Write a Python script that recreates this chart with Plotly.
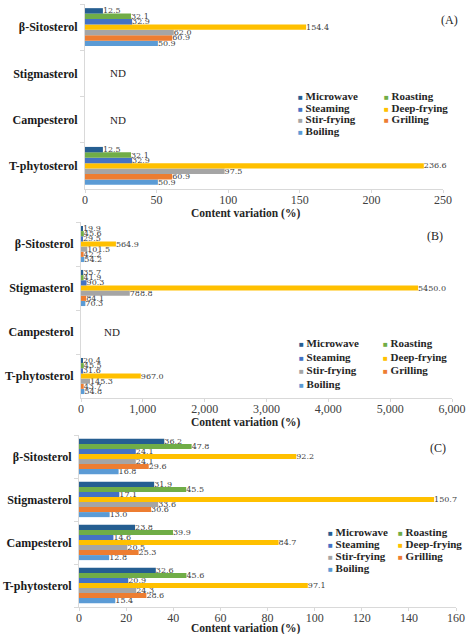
import plotly.graph_objects as go

# ---------------- data ----------------
categories = ["β-Sitosterol", "Stigmasterol", "Campesterol", "T-phytosterol"]
methods = ["Microwave", "Roasting", "Steaming", "Deep-frying", "Stir-frying", "Grilling", "Boiling"]
colors = ["#255E91", "#70AD47", "#4472C4", "#FFC000", "#A5A5A5", "#ED7D31", "#5B9BD5"]

# values per method, in category order above (None = ND)
panel_a = {
    "Microwave":   [12.5, None, None, 12.5],
    "Roasting":    [32.1, None, None, 32.1],
    "Steaming":    [32.9, None, None, 32.9],
    "Deep-frying": [154.4, None, None, 236.6],
    "Stir-frying": [62.0, None, None, 97.5],
    "Grilling":    [60.9, None, None, 60.9],
    "Boiling":     [50.9, None, None, 50.9],
}
panel_b = {
    "Microwave":   [19.9, 35.7, None, 20.4],
    "Roasting":    [45.6, 41.9, None, 45.5],
    "Steaming":    [29.5, 90.3, None, 31.6],
    "Deep-frying": [564.9, 5450.0, None, 967.0],
    "Stir-frying": [101.5, 788.8, None, 145.3],
    "Grilling":    [42.2, 84.1, None, 43.7],
    "Boiling":     [54.2, 70.3, None, 54.8],
}
panel_c = {
    "Microwave":   [36.2, 31.9, 23.8, 32.6],
    "Roasting":    [47.8, 45.5, 39.9, 45.6],
    "Steaming":    [24.1, 17.1, 14.6, 20.9],
    "Deep-frying": [92.2, 150.7, 84.7, 97.1],
    "Stir-frying": [24.1, 33.6, 20.5, 24.3],
    "Grilling":    [29.6, 30.6, 25.3, 28.6],
    "Boiling":     [16.8, 13.0, 12.8, 15.4],
}
nd_a = ["Stigmasterol", "Campesterol"]
nd_b = ["Campesterol"]
x_ranges = [[0, 250], [0, 6000], [0, 160]]
x_dticks = [50, 1000, 20]
panel_labels = ["(A)", "(B)", "(C)"]
axis_title = "Content variation (%)"

# ---------------- layout geometry ----------------
W, H = 471, 634
def px(x):
    return x / W
def py(y):
    return 1 - y / H

x_domains = [[px(85), px(443)], [px(81), px(452)], [px(79), px(456)]]
y_domains = [[py(189), py(4)], [py(398), py(222)], [py(607), py(435)]]
# legend: (col1 left, col2 left, first row y, row pitch) in px
legend_pos = [
    (296, 382, 96, 11.5),
    (297, 381, 343, 13.7),
    (326, 396, 532, 12.0),
]
title_y = [213, 422, 628]
label_pos = [(449, 20), (435, 236), (438, 448)]

serif = "Liberation Serif"
col1 = ["Microwave", "Steaming", "Stir-frying", "Boiling"]
col2 = ["Roasting", "Deep-frying", "Grilling"]

fig = go.Figure()
panels = [panel_a, panel_b, panel_c]
for p, data in enumerate(panels):
    xa = "x" if p == 0 else f"x{p+1}"
    ya = "y" if p == 0 else f"y{p+1}"
    # add bottom-most series first so Microwave sits on top
    for m, c in zip(reversed(methods), reversed(colors)):
        vals = data[m]
        fig.add_trace(go.Bar(
            y=categories, x=vals, orientation="h", name=m,
            marker=dict(color=c, line=dict(width=0)),
            text=[("" if v is None else f"{v:.1f}") for v in vals],
            textposition="outside", constraintext="none", cliponaxis=False,
            textfont=dict(family="DejaVu Serif", size=8, color="#404040"),
            xaxis=xa, yaxis=ya, showlegend=False,
            hoverinfo="x+name",
        ))

layout = dict(
    width=W, height=H,
    margin=dict(l=0, r=0, t=0, b=0),
    paper_bgcolor="white", plot_bgcolor="white",
    barmode="group", bargap=0.18, bargroupgap=0,
    font=dict(family=serif, color="#000000"),
    showlegend=False,
    annotations=[],
)
color_of = dict(zip(methods, colors))
for p in range(3):
    sx = "" if p == 0 else str(p + 1)
    layout[f"xaxis{sx}"] = dict(
        domain=x_domains[p], anchor=f"y{sx}", range=x_ranges[p], dtick=x_dticks[p],
        tickformat="," if p == 1 else None,
        showline=True, linecolor="#D9D9D9", linewidth=1,
        ticks="outside", ticklen=3, tickcolor="#D9D9D9",
        showgrid=False, zeroline=False,
        tickfont=dict(family=serif, size=12, color="#404040"),
        ticklabelstandoff=-3,
        automargin=False,
    )
    layout[f"yaxis{sx}"] = dict(
        domain=y_domains[p], anchor=f"x{sx}", type="category",
        categoryorder="array", categoryarray=list(reversed(categories)),
        showline=True, linecolor="#D9D9D9", linewidth=1,
        ticks="outside", ticklen=4, tickcolor="#D9D9D9", tickson="boundaries",
        showgrid=False, zeroline=False,
        tickfont=dict(family=serif, size=12, color="#1a1a1a", weight="bold"),
        ticklabelstandoff=4,
        automargin=False,
    )
    # compact two-column legend built from the series names / colours
    c1, c2, y0, pitch = legend_pos[p]
    for colx, names in ((c1, col1), (c2, col2)):
        for r, m in enumerate(names):
            layout["annotations"].append(dict(
                text=(f"<span style='font-size:8px;color:{color_of[m]}'>■</span>"
                      f" <b>{m}</b>"),
                x=px(colx), y=py(y0 + r * pitch), xref="paper", yref="paper",
                xanchor="left", yanchor="middle", showarrow=False,
                font=dict(family=serif, size=11, color="#262626"),
            ))
    layout["annotations"].append(dict(
        text=f"<b>{axis_title}</b>", x=px(245), y=py(title_y[p]),
        xref="paper", yref="paper", showarrow=False,
        font=dict(family=serif, size=11.5, color="#262626"),
        xanchor="center", yanchor="middle",
    ))
    lx, ly = label_pos[p]
    layout["annotations"].append(dict(
        text=panel_labels[p], x=px(lx), y=py(ly),
        xref="paper", yref="paper", showarrow=False,
        font=dict(family=serif, size=12, color="#262626"),
        xanchor="center", yanchor="middle",
    ))

for cat in nd_a:
    layout["annotations"].append(dict(
        text="ND", x=0.064, xref="x domain", y=cat, yref="y",
        showarrow=False, font=dict(family=serif, size=11, color="#262626"),
    ))
for cat in nd_b:
    layout["annotations"].append(dict(
        text="ND", x=0.057, xref="x2 domain", y=cat, yref="y2",
        showarrow=False, font=dict(family=serif, size=11, color="#262626"),
    ))

fig.update_layout(**layout)
fig.write_html("out.html")
